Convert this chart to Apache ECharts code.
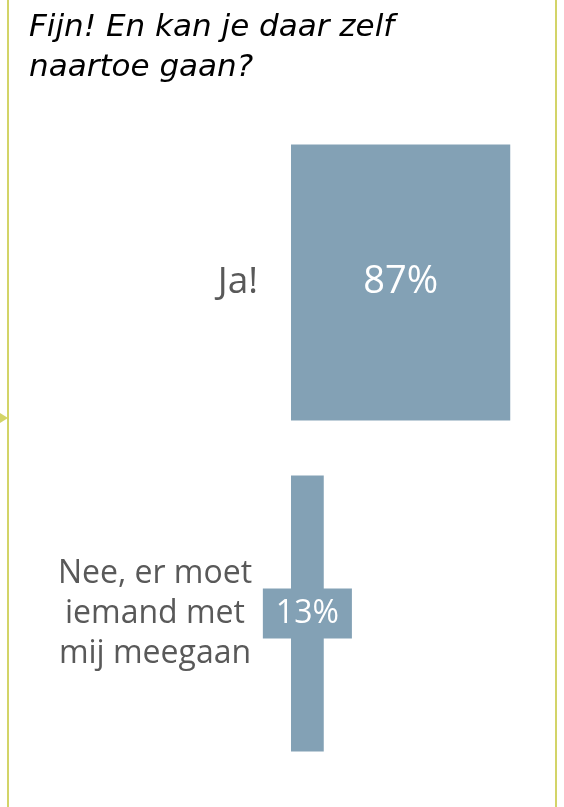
<!DOCTYPE html>
<html>
<head>
<meta charset="utf-8">
<style>
  html, body { margin: 0; padding: 0; background: #fff; }
  #chart { width: 564px; height: 807px; }
</style>
<script src="https://cdn.jsdelivr.net/npm/echarts@6/dist/echarts.min.js"></script>
</head>
<body>
<div id="chart"></div>
<script>
// data
var categories = ['Ja!', 'Nee, er moet\niemand met\nmij meegaan']
var percentages = [87, 13]
var titleText = 'Fijn! En kan je daar zelf\nnaartoe gaan?'

var barColor = '#83a1b5'
var lineColor = '#d3d468'
var textGray = '#595959'

var chart = echarts.init(document.getElementById('chart'))

// per-bar label looks (the small bar gets a boxed label)
var labelStyles = [
  { position: 'inside', fontSize: 38 },
  { position: 'inside', fontSize: 32, backgroundColor: barColor, padding: [6, 13, 6, 13], lineHeight: 38 }
]

var option = {
  animation: false,
  title: {
    text: titleText,
    left: 24,
    top: 3,
    textStyle: {
      fontFamily: 'DejaVu Sans',
      fontStyle: 'italic',
      fontWeight: 'normal',
      fontSize: 31,
      lineHeight: 40,
      color: '#000'
    }
  },
  grid: {
    left: 291,
    width: 252,
    top: 117,
    height: 662
  },
  xAxis: {
    type: 'value',
    min: 0,
    max: 100,
    show: false
  },
  yAxis: {
    type: 'category',
    inverse: true,
    data: categories,
    axisLine: { show: false },
    axisTick: { show: false },
    splitLine: { show: false },
    axisLabel: {
      margin: 33,
      align: 'right',
      formatter: function (value, idx) {
        if (idx === 0) return '{big|' + value + '}'
        return value.split('\n').map(function (s) { return '{small|' + s + '}' }).join('\n')
      },
      rich: {
        big: { fontFamily: 'Open Sans', fontSize: 37, color: textGray },
        small: { fontFamily: 'Open Sans', fontSize: 32, lineHeight: 40, color: textGray, width: 206, align: 'center' }
      }
    }
  },
  series: [
    {
      type: 'bar',
      barCategoryGap: '16.6%',
      itemStyle: { color: barColor },
      label: {
        show: true,
        color: '#fff',
        fontFamily: 'Open Sans',
        formatter: '{c}%'
      },
      data: percentages.map(function (v, i) {
        return { value: v, label: labelStyles[i] }
      })
    }
  ],
  graphic: [
    { type: 'rect', shape: { x: 7, y: 0, width: 2, height: 807 }, style: { fill: lineColor }, silent: true },
    { type: 'rect', shape: { x: 555, y: 0, width: 2, height: 807 }, style: { fill: lineColor }, silent: true },
    { type: 'polygon', shape: { points: [[0, 413], [8, 418], [0, 423]] }, style: { fill: lineColor }, silent: true }
  ]
}

chart.setOption(option)
</script>
</body>
</html>
